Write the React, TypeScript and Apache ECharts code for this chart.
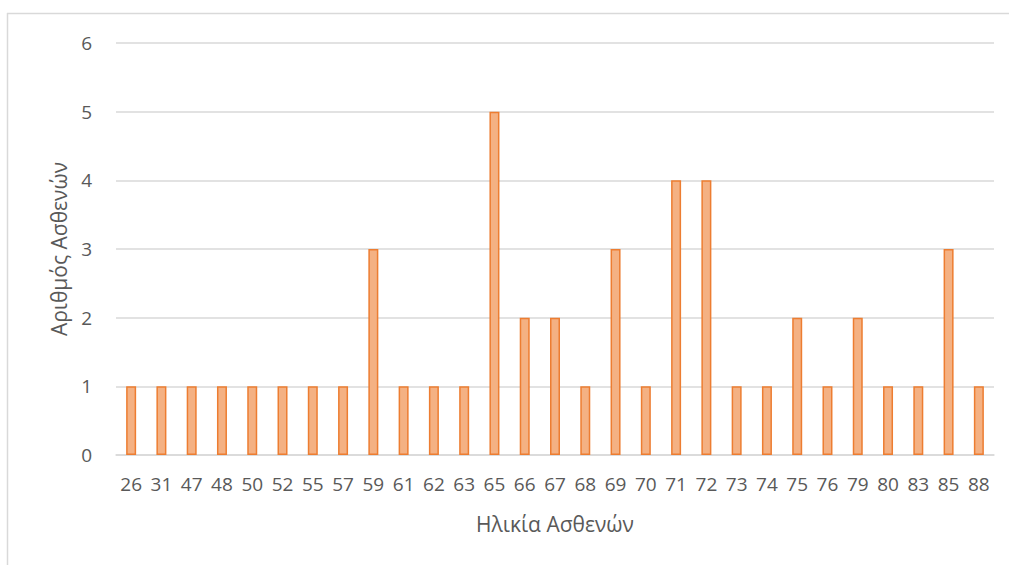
import React, { useEffect, useRef } from "react";
import * as echarts from "echarts";

const ages = ["26","31","47","48","50","52","55","57","59","61","62","63","65","66","67","68","69","70","71","72","73","74","75","76","79","80","83","85","88"];
const counts = [1,1,1,1,1,1,1,1,3,1,1,1,5,2,2,1,3,1,4,4,1,1,2,1,2,1,1,3,1];
const yTicks = [0, 6, 1];

export default function App() {
  const ref = useRef<HTMLDivElement>(null);
  useEffect(() => {
    const chart = echarts.init(ref.current!, undefined, { renderer: "svg" });
    const font = "'Open Sans', 'Noto Sans', sans-serif";
    chart.setOption({
      animation: false,
      backgroundColor: "#ffffff",
      graphic: [
        { type: "line", shape: { x1: 7, y1: 13.5, x2: 1009, y2: 13.5 }, style: { stroke: "#d9d9d9", lineWidth: 1.5 } },
        { type: "line", shape: { x1: 7.5, y1: 13, x2: 7.5, y2: 565 }, style: { stroke: "#d9d9d9", lineWidth: 1.5 } },
      ],
      grid: { left: 116, right: 15, top: 43, bottom: 110 },
      xAxis: {
        type: "category",
        data: ages,
        name: "Ηλικία Ασθενών",
        nameLocation: "middle",
        nameGap: 58,
        nameTextStyle: { color: "#595959", fontSize: 21, fontFamily: font },
        axisLine: { show: true, lineStyle: { color: "#d9d9d9", width: 1.5 } },
        axisTick: { show: false },
        axisLabel: { color: "#595959", fontSize: 19, fontFamily: font, margin: 19, interval: 0 },
      },
      yAxis: {
        type: "value",
        min: yTicks[0],
        max: yTicks[1],
        interval: yTicks[2],
        name: "Αριθμός Ασθενών",
        nameLocation: "middle",
        nameGap: 47,
        nameTextStyle: { color: "#595959", fontSize: 21, fontFamily: font },
        axisLine: { show: false },
        axisTick: { show: false },
        axisLabel: { color: "#595959", fontSize: 19, fontFamily: font, margin: 24 },
        splitLine: { lineStyle: { color: "#d9d9d9", width: 1.5 } },
      },
      series: [
        {
          type: "bar",
          data: counts,
          barWidth: 10,
          itemStyle: { color: "#F4B183", borderColor: "#ED7D31", borderWidth: 1.5 },
        },
      ],
    });
    return () => chart.dispose();
  }, []);
  return <div ref={ref} style={{ position: "absolute", left: 0, top: 0, width: 1009, height: 565 }} />;
}
